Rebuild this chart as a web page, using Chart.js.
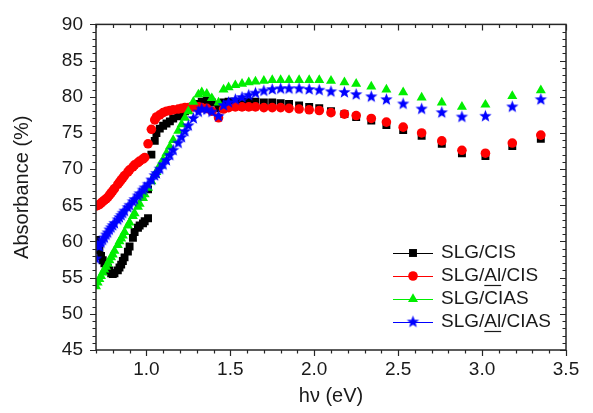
<!DOCTYPE html>
<html>
<head>
<meta charset="utf-8">
<script src="https://cdn.jsdelivr.net/npm/chart.js@4.4.0/dist/chart.umd.min.js"></script>
<style>
  html, body { margin: 0; padding: 0; background: #fff; }
  #wrap { width: 593px; height: 413px; }
</style>
</head>
<body>
<div id="wrap"><canvas id="absChart" width="593" height="413"></canvas></div>
<script>
// photon energy (eV), shared by all samples
const energies = [
  0.70, 0.71, 0.72, 0.73, 0.74, 0.75, 0.76, 0.77, 0.78, 0.79,
  0.80, 0.81, 0.83, 0.84, 0.85, 0.86, 0.87, 0.89, 0.90, 0.92,
  0.93, 0.95, 0.96, 0.98, 0.99, 1.01, 1.03, 1.05, 1.06, 1.08,
  1.10, 1.12, 1.14, 1.16, 1.19, 1.21, 1.23, 1.25, 1.28, 1.31,
  1.33, 1.36, 1.39, 1.43, 1.46, 1.49, 1.53, 1.57, 1.61, 1.65,
  1.70, 1.75, 1.80, 1.85, 1.91, 1.97, 2.03, 2.10, 2.18, 2.25,
  2.34, 2.43, 2.53, 2.64, 2.76, 2.88, 3.02, 3.18, 3.35
];

// SLG/CIS is measured in two pieces (detector change near 1.0 eV)
const cisLow = [
  60.2, 59.6, 58.8, 58.0, 57.4, 57.0, 56.7, 56.4, 56.0, 55.6,
  55.5, 55.6, 56.0, 56.4, 56.8, 57.3, 57.8, 58.6, 59.3, 60.5,
  61.3, 61.9, 62.2, 62.5, 62.8, 63.2
];
const cisHigh = [
  67.2, 72.0, 73.9, 75.0, 75.6, 76.0, 76.3, 76.6, 77.0, 77.3,
  77.7, 78.0, 78.3, 78.7, 79.0, 79.3, 79.5, 79.2, 78.4, 79.2,
  79.3, 79.3, 79.3, 79.3, 79.3, 79.2, 79.2, 79.1, 79.0, 78.8,
  78.6, 78.4, 78.0, 77.6, 77.2, 76.7, 76.1, 75.4, 74.6, 73.5,
  72.2, 71.8, 73.2, 74.2
];
const alCis = [
  64.9, 65.0, 65.1, 65.3, 65.5, 65.7, 65.9, 66.1, 66.4, 66.7,
  67.0, 67.3, 67.9, 68.2, 68.5, 68.8, 69.1, 69.6, 69.9, 70.3,
  70.6, 70.9, 71.1, 71.4, 71.6, 73.5, 75.5, 76.8, 77.2, 77.5,
  77.8, 78.0, 78.1, 78.2, 78.3, 78.4, 78.5, 78.5, 78.6, 78.6,
  78.5, 78.4, 78.0, 77.1, 78.3, 78.5, 78.6, 78.6, 78.6, 78.6,
  78.5, 78.5, 78.5, 78.4, 78.3, 78.2, 78.1, 77.8, 77.6, 77.4,
  77.0, 76.5, 75.8, 75.0, 73.9, 72.6, 72.2, 73.6, 74.7
];
const cias = [
  53.8, 54.3, 54.8, 55.2, 55.7, 56.1, 56.5, 56.9, 57.4, 57.8,
  58.2, 58.7, 59.5, 60.0, 60.4, 60.8, 61.3, 62.2, 62.6, 63.5,
  63.9, 64.8, 65.2, 66.0, 66.5, 67.4, 68.3, 69.2, 69.6, 70.5,
  71.3, 72.2, 73.1, 74.0, 75.3, 76.2, 77.1, 78.0, 79.3, 80.3,
  80.6, 80.4, 79.8, 79.2, 81.0, 81.3, 81.6, 81.8, 82.0, 82.1,
  82.2, 82.3, 82.3, 82.3, 82.3, 82.3, 82.3, 82.2, 82.0, 81.8,
  81.4, 81.0, 80.6, 79.9, 79.2, 78.6, 78.9, 80.1, 80.9
];
const alCias = [
  57.6, 59.4, 59.3, 59.8, 60.2, 60.5, 60.9, 61.2, 61.6, 61.9,
  62.2, 62.5, 63.0, 63.3, 63.6, 63.9, 64.2, 64.7, 65.0, 65.5,
  65.8, 66.3, 66.6, 67.1, 67.4, 67.9, 68.5, 69.1, 69.4, 70.0,
  70.6, 71.2, 71.9, 72.6, 73.6, 74.4, 75.2, 76.0, 77.0, 77.9,
  78.3, 78.2, 77.9, 77.3, 78.8, 79.2, 79.6, 79.9, 80.2, 80.5,
  80.8, 81.0, 81.1, 81.1, 81.1, 81.0, 80.9, 80.7, 80.6, 80.3,
  80.0, 79.6, 79.0, 78.3, 77.8, 77.2, 77.3, 78.6, 79.6
];

const seriesNames = ['SLG/CIS', 'SLG/Al/CIS', 'SLG/CIAS', 'SLG/Al/CIAS'];
const xTicks = [1.0, 1.5, 2.0, 2.5, 3.0, 3.5];
const yTicks = [45, 50, 55, 60, 65, 70, 75, 80, 85, 90];

const FONT = "'Liberation Sans', Arial, sans-serif";
const AXIS = '#262626';

function toPoints(xs, ys) {
    return ys.map((y, i) => ({ x: xs[i], y: y }));
}

function starImage(color, r) {
    const c = document.createElement('canvas');
    const s = Math.ceil(r * 2 + 2);
    c.width = s; c.height = s;
    const g = c.getContext('2d');
    g.fillStyle = color;
    g.beginPath();
    for (let i = 0; i < 10; i++) {
        const rad = i % 2 === 0 ? r : r * 0.42;
        const a = -Math.PI / 2 + i * Math.PI / 5;
        const px = s / 2 + rad * Math.cos(a), py = s / 2 + rad * Math.sin(a);
        if (i === 0) g.moveTo(px, py); else g.lineTo(px, py);
    }
    g.closePath();
    g.fill();
    return c;
}

const blueStar = starImage('#0000ff', 6.5);

const markerStyles = [
    { color: '#000000', pointStyle: 'rect', radius: 5.6 },
    { color: '#ff0000', pointStyle: 'circle', radius: 4.8 },
    { color: '#00ee00', pointStyle: 'triangle', radius: 5.8 },
    { color: '#0000ff', pointStyle: blueStar, radius: 6.5 }
];

function mkSet(label, pts, st, order) {
    return {
        label: label,
        data: pts,
        showLine: false,
        pointStyle: st.pointStyle,
        pointRadius: st.radius,
        pointBackgroundColor: st.color,
        pointBorderWidth: 0,
        borderColor: st.color,
        order: order
    };
}

// frame + ticks on all four sides
const framePlugin = {
    id: 'frame',
    afterDatasetsDraw(chart) {
        const { ctx, chartArea: a, scales: { x, y } } = chart;
        ctx.save();
        ctx.strokeStyle = AXIS;
        ctx.lineWidth = 1.5;
        ctx.strokeRect(a.left, a.top, a.right - a.left, a.bottom - a.top);
        ctx.lineWidth = 1.2;
        ctx.beginPath();
        for (let i = 7; i <= 35; i++) {
            const v = i / 10;
            const px = Math.round(x.getPixelForValue(v)) + 0.5;
            const len = (i % 5 === 0) ? 6 : 3.5;
            ctx.moveTo(px, a.bottom); ctx.lineTo(px, a.bottom + len);
            ctx.moveTo(px, a.top); ctx.lineTo(px, a.top + len);
        }
        for (let v = 45; v <= 90; v++) {
            const py = Math.round(y.getPixelForValue(v)) + 0.5;
            const len = (v % 5 === 0) ? 6 : 3.5;
            ctx.moveTo(a.left, py); ctx.lineTo(a.left - len, py);
            ctx.moveTo(a.right, py); ctx.lineTo(a.right - len, py);
        }
        ctx.stroke();
        ctx.restore();
    }
};

// Origin-style legend: line with marker, then the label
const legendPlugin = {
    id: 'originLegend',
    afterDraw(chart) {
        const ctx = chart.ctx;
        const x0 = 393, x1 = 433, tx = 441;
        const rows = [253, 276, 299, 322];
        ctx.save();
        ctx.font = '19px ' + FONT;
        ctx.textBaseline = 'middle';
        seriesNames.forEach((name, i) => {
            const st = markerStyles[i];
            const yy = rows[i];
            ctx.strokeStyle = st.color;
            ctx.lineWidth = 1;
            ctx.beginPath();
            ctx.moveTo(x0, yy + 0.5); ctx.lineTo(x1, yy + 0.5);
            ctx.stroke();
            ctx.fillStyle = st.color;
            Chart.helpers.drawPoint(ctx, {
                pointStyle: st.pointStyle, radius: st.radius, rotation: 0, borderWidth: 0
            }, (x0 + x1) / 2, yy);
            ctx.fillStyle = '#1a1a1a';
            ctx.fillText(name, tx, yy);
            if (name.indexOf('/Al/') >= 0) {
                const pre = ctx.measureText('SLG/').width;
                const w = ctx.measureText('Al').width;
                ctx.strokeStyle = '#1a1a1a';
                ctx.lineWidth = 1.2;
                ctx.beginPath();
                ctx.moveTo(tx + pre, yy + 9.5); ctx.lineTo(tx + pre + w, yy + 9.5);
                ctx.stroke();
            }
        });
        ctx.restore();
    }
};

new Chart(document.getElementById('absChart'), {
    type: 'scatter',
    data: {
        datasets: [
            mkSet(seriesNames[0], toPoints(energies.slice(25), cisHigh), markerStyles[0], 4),
            mkSet(seriesNames[1], toPoints(energies, alCis), markerStyles[1], 3),
            mkSet(seriesNames[2], toPoints(energies, cias), markerStyles[2], 2),
            mkSet(seriesNames[3], toPoints(energies, alCias), markerStyles[3], 1),
            mkSet(seriesNames[0] + ' (low)', toPoints(energies.slice(0, 26), cisLow), markerStyles[0], 5)
        ]
    },
    options: {
        responsive: false,
        animation: false,
        devicePixelRatio: 1,
        layout: { padding: { top: 21, right: 27, left: 0, bottom: 0 } },
        plugins: { legend: { display: false }, tooltip: { enabled: false } },
        scales: {
            x: {
                type: 'linear',
                min: 0.7,
                max: 3.5,
                afterFit: s => { s.height = 63; },
                afterBuildTicks: s => { s.ticks = xTicks.map(v => ({ value: v })); },
                grid: { display: false, drawTicks: false },
                border: { display: false },
                ticks: {
                    padding: 8,
                    color: '#1a1a1a',
                    font: { family: FONT, size: 19 },
                    maxRotation: 0,
                    autoSkip: false,
                    callback: v => Number(v).toFixed(1)
                },
                title: {
                    display: true,
                    text: 'hν (eV)',
                    color: '#1a1a1a',
                    font: { family: FONT, size: 20 },
                    padding: { top: 0, bottom: 5 }
                }
            },
            y: {
                min: 45,
                max: 90,
                afterFit: s => { s.width = 96; },
                afterBuildTicks: s => { s.ticks = yTicks.map(v => ({ value: v })); },
                grid: { display: false, drawTicks: false },
                border: { display: false },
                ticks: {
                    padding: 13,
                    color: '#1a1a1a',
                    font: { family: FONT, size: 19 }
                },
                title: {
                    display: true,
                    text: 'Absorbance (%)',
                    color: '#1a1a1a',
                    font: { family: FONT, size: 20 },
                    padding: { top: 10, bottom: 0 }
                }
            }
        }
    },
    plugins: [framePlugin, legendPlugin]
});
</script>
</body>
</html>
